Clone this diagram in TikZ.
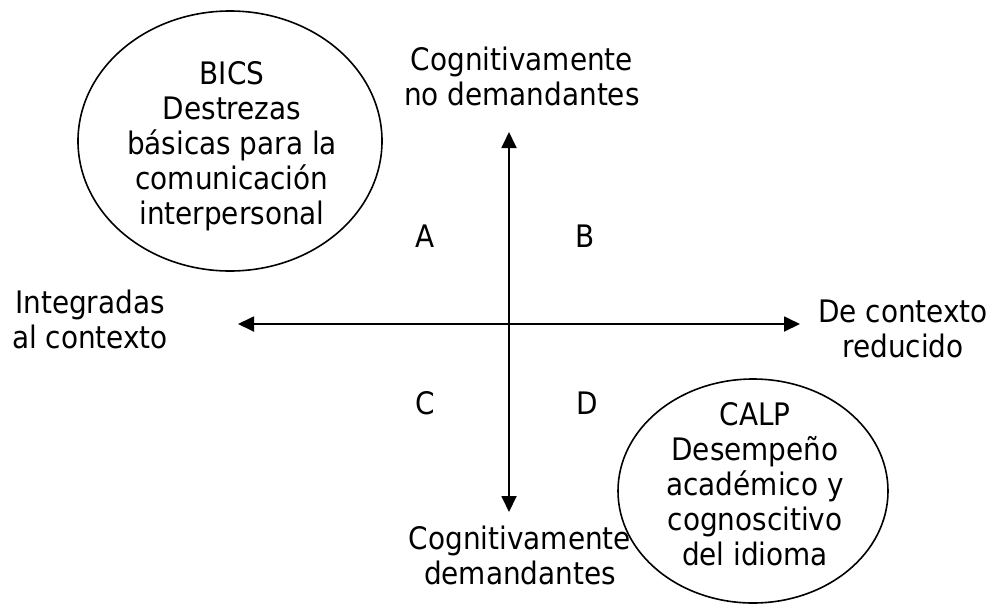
\documentclass[tikz,border=0pt]{standalone}
\usepackage{fontspec}
\setmainfont{DejaVu Sans Condensed}
\usetikzlibrary{arrows.meta}
\begin{document}
\begin{tikzpicture}[x=1pt,y=-1pt,
  lbl/.style={align=center,font=\fontsize{31}{35}\selectfont,inner sep=0pt},
  bubble/.style={line width=1.6pt},
  axis/.style={line width=1.8pt,{Triangle[length=16pt,width=15pt]}-{Triangle[length=16pt,width=15pt]}}]
\useasboundingbox (0,0) rectangle (1008,606);
% ellipses
\draw[bubble] (230,141) ellipse [x radius=152, y radius=130];
\draw[bubble] (753,491) ellipse [x radius=135, y radius=112];
% axis end points
\coordinate (top) at (509,132);
\coordinate (bot) at (509,512);
\coordinate (lft) at (238,324);
\coordinate (rgt) at (800,324);
\draw[axis] (top) -- (bot);
\draw[axis] (lft) -- (rgt);
% labels
\node[lbl] (bics) at (232,146) {BICS\\Destrezas\\básicas para la\\comunicación\\interpersonal};
\node[lbl] (calp) at (755,484) {CALP\\Desempeño\\académico y\\cognoscitivo\\del idioma};
\node[lbl] (cnd) at (522,76) {Cognitivamente\\no demandantes};
\node[lbl] (cd) at (520,555) {Cognitivamente\\demandantes};
\node[lbl] (int) at (90,319) {Integradas\\al contexto};
\node[lbl] (dcr) at (903,329) {De contexto\\reducido};
\node[lbl] (A) at (425,236) {A};
\node[lbl] (B) at (585,236) {B};
\node[lbl] (C) at (425,403) {C};
\node[lbl] (D) at (587,403) {D};
\end{tikzpicture}
\end{document}
